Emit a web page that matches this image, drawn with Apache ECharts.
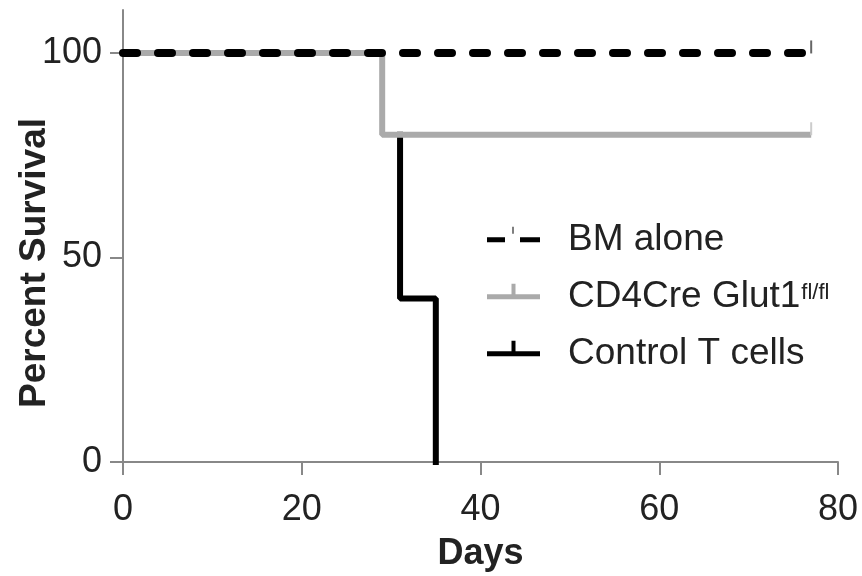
<!DOCTYPE html>
<html>
<head>
<meta charset="utf-8">
<script src="https://cdn.jsdelivr.net/npm/echarts@6/dist/echarts.min.js"></script>
<style>
  html, body { margin: 0; padding: 0; background: #fff; }
  #main { width: 862px; height: 576px; }
</style>
</head>
<body>
<div id="main"></div>
<script>
// survival curves, [day, percent]
var bmAlone = [[0, 100], [77, 100]]
var glut1 = [[0, 100], [29, 80], [77, 80]]
var controlT = [[31, 80], [31, 40], [35, 40], [35, 0]]
var xTicks = [0, 20, 40, 60, 80]
var yTicks = [0, 50, 100]
var names = ['BM alone', 'CD4Cre Glut1', 'Control T cells']
var supers = { 'CD4Cre Glut1': 'fl/fl' }

var chart = echarts.init(document.getElementById('main'))

function endTick(pt, color) {
  // censor tick at the last point
  return {
    value: pt,
    symbol: 'path://M0,0 L1,0 L1,10 L0,10 Z',
    symbolSize: [2, 13],
    symbolOffset: [0, -6],
    itemStyle: { color: color }
  }
}

// legend icons: bar at the bottom, censor tick on top
var iconDashed = 'path://M0,10.5 L18,10.5 L18,15.5 L0,15.5 Z M33,10.5 L53,10.5 L53,15.5 L33,15.5 Z M25.5,0 L26.5,0 L26.5,7 L25.5,7 Z'
var iconSolid = 'path://M0,10.5 L53,10.5 L53,15.5 L0,15.5 Z M24.5,0 L28.5,0 L28.5,10.5 L24.5,10.5 Z'

var font = 'Liberation Sans'

var option = {
  animation: false,
  grid: { left: 123, right: 24, top: 10, bottom: 114, outerBoundsMode: 'none' },
  xAxis: {
    type: 'value',
    min: 0,
    max: 80,
    interval: 20,
    name: 'Days',
    nameLocation: 'middle',
    nameGap: 74,
    nameMoveOverlap: false,
    nameTextStyle: { fontFamily: font, fontWeight: 'bold', fontSize: 36, color: '#222' },
    axisLine: { lineStyle: { color: '#888', width: 2 } },
    axisTick: { length: 13, lineStyle: { color: '#888', width: 2 }, customValues: xTicks },
    axisLabel: { fontFamily: font, fontSize: 36, color: '#222', margin: 30, customValues: xTicks },
    splitLine: { show: false }
  },
  yAxis: {
    type: 'value',
    min: 0,
    max: 110.5,
    name: 'Percent Survival',
    nameLocation: 'middle',
    nameRotate: 90,
    nameGap: 70,
    nameMoveOverlap: false,
    nameTextStyle: { fontFamily: font, fontWeight: 'bold', fontSize: 37, color: '#222', padding: [0, 54, 0, 0] },
    axisLine: { lineStyle: { color: '#888', width: 2 } },
    axisTick: { length: 13, lineStyle: { color: '#888', width: 2 }, customValues: yTicks },
    axisLabel: { fontFamily: font, fontSize: 36, color: '#222', margin: 21, customValues: yTicks },
    splitLine: { show: false }
  },
  legend: {
    orient: 'vertical',
    left: 482,
    top: 206,
    itemWidth: 53,
    itemHeight: 15.5,
    itemGap: 10,
    symbolKeepAspect: false,
    textStyle: {
      fontFamily: font,
      fontSize: 37,
      color: '#222',
      rich: {
        n: { fontFamily: font, fontSize: 37, color: '#222', lineHeight: 40, padding: [10, 0, 0, 23] },
        sup: { fontFamily: font, fontSize: 22, color: '#222', lineHeight: 24, verticalAlign: 'top', padding: [10, 0, 0, 1] }
      }
    },
    formatter: function (name) {
      return '{n|' + name + '}{sup|' + (supers[name] || ' ') + '}'
    },
    data: [
      { name: names[0], icon: iconDashed },
      { name: names[1], icon: iconSolid },
      { name: names[2], icon: iconSolid }
    ]
  },
  series: [
    {
      name: 'Control T cells',
      type: 'line',
      data: controlT,
      symbol: 'none',
      color: '#000',
      lineStyle: { color: '#000', width: 6, cap: 'square' },
      z: 2
    },
    {
      name: 'CD4Cre Glut1',
      type: 'line',
      step: 'end',
      data: glut1.slice(0, -1).concat([endTick(glut1[glut1.length - 1], '#ccc')]),
      symbol: 'none',
      color: '#aaa',
      lineStyle: { color: '#aaa', width: 6 },
      z: 3
    },
    {
      name: 'BM alone',
      type: 'line',
      data: bmAlone.slice(0, -1).concat([endTick(bmAlone[bmAlone.length - 1], '#666')]),
      symbol: 'none',
      color: '#000',
      lineStyle: { color: '#000', width: 8, type: [14, 21], cap: 'round' },
      z: 4
    }
  ]
}
chart.setOption(option)
</script>
</body>
</html>
